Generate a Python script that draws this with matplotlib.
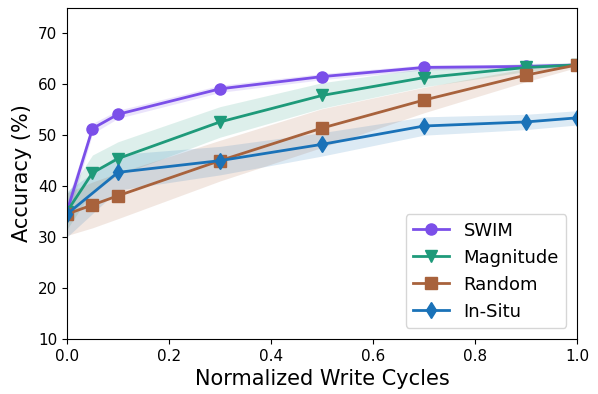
import matplotlib
matplotlib.use('Agg')
import matplotlib.pyplot as plt
import numpy as np

# normalized write cycles
x_main = [0.0, 0.05, 0.1, 0.3, 0.5, 0.7, 0.9, 1.0]
x_situ = [0.0, 0.1, 0.3, 0.5, 0.7, 0.9, 1.0]

swim = [35.0, 51.3, 54.1, 59.1, 61.5, 63.3, 63.5, 63.8]
swim_err = [2.0, 1.0, 0.8, 0.7, 0.6, 0.5, 0.4, 0.3]

magnitude = [35.0, 42.6, 45.4, 52.6, 57.8, 61.3, 63.3, 63.8]
magnitude_err = [3.5, 3.5, 3.3, 3.0, 2.5, 1.8, 0.8, 0.4]

random_ = [34.5, 36.3, 38.1, 45.0, 51.4, 56.9, 61.8, 63.8]
random_err = [4.2, 4.5, 4.5, 4.0, 3.8, 2.5, 1.3, 0.5]

insitu = [34.5, 42.7, 45.0, 48.2, 51.8, 52.6, 53.4]
insitu_err = [4.5, 3.5, 2.8, 2.3, 1.8, 1.5, 1.4]

labels = ['SWIM', 'Magnitude', 'Random', 'In-Situ']
colors = ['#7b4fe9', '#1e9a7a', '#a8623c', '#1a72b8']
markers = ['o', 'v', 's', 'd']

fig = plt.figure(figsize=(5.98, 3.94), dpi=100)
ax = fig.add_axes([0.112, 0.140, 0.853, 0.840])

series = [(x_main, swim, swim_err), (x_main, magnitude, magnitude_err),
          (x_main, random_, random_err), (x_situ, insitu, insitu_err)]
for (xs, ys, es), lab, c, m in zip(series, labels, colors, markers):
    ys = np.array(ys); es = np.array(es)
    ax.fill_between(xs, ys - es, ys + es, color=c, alpha=0.15, linewidth=0)
    ax.plot(xs, ys, color=c, marker=m, markersize=8, linewidth=2, label=lab)

ax.set_xlim(0, 1)
ax.set_ylim(10, 75)
ax.set_xticks([0.0, 0.2, 0.4, 0.6, 0.8, 1.0])
ax.set_yticks([10, 20, 30, 40, 50, 60, 70])
ax.tick_params(labelsize=11)
ax.set_xlabel('Normalized Write Cycles', fontsize=15)
ax.set_ylabel('Accuracy (%)', fontsize=15)
ax.legend(loc='lower right', fontsize=13, borderaxespad=0.6)

plt.savefig('out.png', dpi=100)
plt.close()
